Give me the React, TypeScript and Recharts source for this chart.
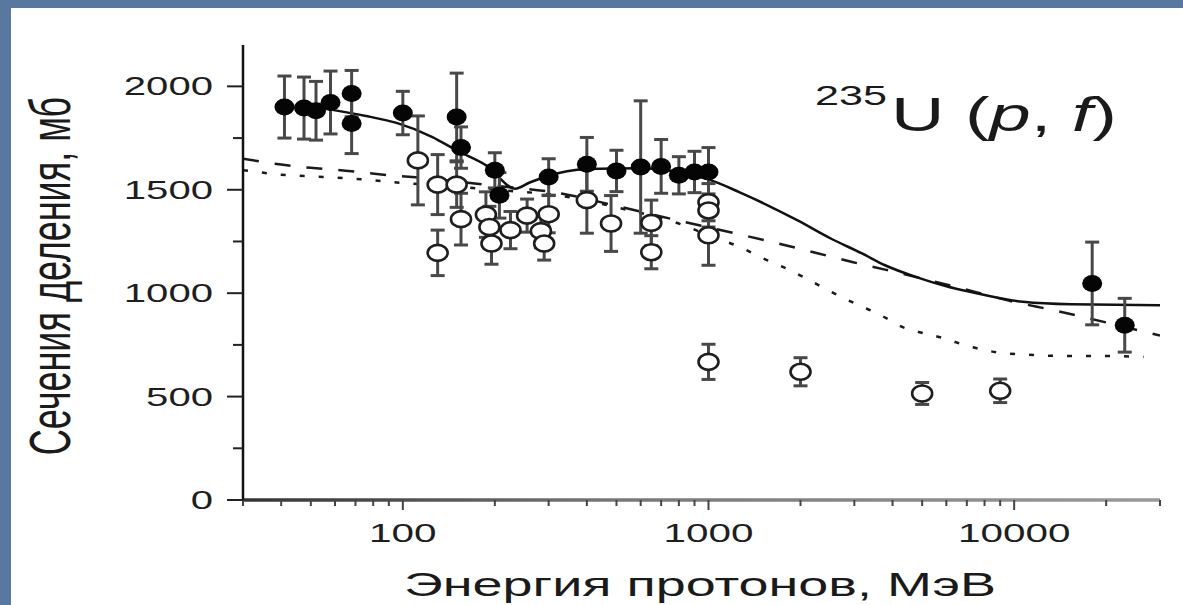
import React from 'react';
import { ComposedChart, XAxis, YAxis, Scatter, Line, ErrorBar, Customized } from 'recharts';

// Filled circles (experimental data, series 1)
const filledX = [41, 47.5, 52, 58, 68, 68, 100, 150, 155, 200, 207, 300, 400, 500, 600, 700, 800, 900, 1000, 18000, 23000];
const filledY = [1900, 1895, 1882, 1922, 1965, 1820, 1871, 1852, 1704, 1594, 1473, 1562, 1623, 1591, 1610, 1613, 1570, 1586, 1586, 1047, 845];
const filledErr = [150, 150, 142, 152, 112, 145, 105, 212, 100, 85, 110, 88, 130, 100, 320, 130, 90, 100, 118, 200, 130];

// Open circles (experimental data, series 2)
const openX = [112, 130, 130, 150, 155, 187, 192, 195, 225, 255, 283, 290, 300, 400, 480, 650, 650, 1000, 1000, 1000, 1000, 2000, 5000, 9000];
const openY = [1642, 1525, 1195, 1525, 1358, 1380, 1320, 1240, 1305, 1375, 1300, 1240, 1382, 1450, 1337, 1340, 1198, 1440, 1400, 1280, 668, 620, 515, 528];
const openErr = [215, 145, 110, 110, 125, 110, 100, 100, 90, 80, 80, 80, 90, 160, 135, 110, 80, 90, 80, 145, 85, 68, 53, 57];

// Calculated curves
const solidX = [57, 75, 96, 125, 150, 190, 233, 260, 293, 400, 600, 800, 1000, 1260, 1950, 2530, 3180, 3780, 4760, 5960, 7170, 10700, 15300, 30000];
const solidY = [1890, 1858, 1822, 1755, 1690, 1612, 1505, 1535, 1563, 1600, 1604, 1585, 1550, 1489, 1353, 1262, 1192, 1135, 1079, 1035, 1007, 958, 946, 942];

const dashedX = [30, 40, 50, 65, 85, 110, 150, 200, 330, 490, 830, 1300, 1730, 2290, 2950, 3780, 6300, 10000, 13400, 16800, 30000];
const dashedY = [1650, 1622, 1606, 1592, 1574, 1560, 1540, 1520, 1482, 1425, 1345, 1280, 1237, 1192, 1151, 1114, 1034, 958, 918, 885, 795];

const dottedX = [30, 40, 55, 73, 100, 150, 200, 330, 500, 830, 1000, 1275, 1485, 1750, 2040, 2370, 2760, 3250, 3740, 4300, 5100, 5920, 6880, 8000, 9300, 10800, 14500, 19700, 26500];
const dottedY = [1595, 1573, 1562, 1551, 1533, 1515, 1500, 1470, 1415, 1328, 1280, 1221, 1173, 1127, 1079, 1027, 977, 929, 886, 837, 805, 781, 749, 725, 709, 704, 696, 696, 692];

// Axis ticks
const xTicks = [30, 40, 50, 60, 70, 80, 90, 100, 200, 300, 400, 500, 600, 700, 800, 900, 1000, 2000, 3000, 4000, 5000, 6000, 7000, 8000, 9000, 10000, 20000, 30000];
const xMajor = [100, 1000, 10000];
const yTicks = [0, 250, 500, 750, 1000, 1250, 1500, 1750, 2000];

const xTitle = 'Энергия протонов, МэВ';
const yTitle = 'Сечения деления, мб';

const FONT = 'Liberation Sans, Arial, Helvetica, sans-serif';

const filledData = filledX.map((x, i) => ({ x, y: filledY[i], e: filledErr[i] }));
const openData = openX.map((x, i) => ({ x, y: openY[i], e: openErr[i] }));
const solidData = solidX.map((x, i) => ({ x, y: solidY[i] }));
const dashedData = dashedX.map((x, i) => ({ x, y: dashedY[i] }));
const dottedData = dottedX.map((x, i) => ({ x, y: dottedY[i] }));

const FilledDot = (p: any) => <ellipse cx={p.cx} cy={p.cy} rx={10} ry={8.5} fill="#050505" />;
const OpenDot = (p: any) => (
  <ellipse cx={p.cx} cy={p.cy} rx={10} ry={8} fill="#fff" stroke="#1e1e1e" strokeWidth={2.6} />
);

const XTick = (props: any) => {
  const { x, y, payload } = props;
  const v = payload.value;
  const major = xMajor.includes(v);
  const s = String(v);
  return (
    <g>
      <line x1={x} y1={y} x2={x} y2={y + (major ? 10 : 6)} stroke="#444" strokeWidth={2} />
      {major && (
        <text
          x={x}
          y={y + 42}
          textAnchor="middle"
          fontSize={25}
          fontFamily={FONT}
          fill="#1e1e1e"
          textLength={s.length * 22.5}
          lengthAdjust="spacingAndGlyphs"
        >
          {s}
        </text>
      )}
    </g>
  );
};

const YTick = (props: any) => {
  const { x, y, payload } = props;
  const v = payload.value;
  const major = v % 500 === 0;
  const s = String(v);
  return (
    <g>
      <line x1={x} y1={y} x2={x - (major ? 16 : 10)} y2={y} stroke="#222" strokeWidth={2} />
      {major && (
        <text
          x={x - 30}
          y={y + 9}
          textAnchor="end"
          fontSize={25}
          fontFamily={FONT}
          fill="#1e1e1e"
          textLength={s.length * 22.3}
          lengthAdjust="spacingAndGlyphs"
        >
          {s}
        </text>
      )}
    </g>
  );
};

const Decorations = () => (
  <g fontFamily={FONT} fill="#1a1a1a">
    <text
      x={700}
      y={596}
      textAnchor="middle"
      fontSize={34}
      textLength={592}
      lengthAdjust="spacingAndGlyphs"
    >
      {xTitle}
    </text>
    <text transform="translate(70,276) scale(1.6,1) rotate(-90)" x={0} y={0} textAnchor="middle" fontSize={36}>
      {yTitle}
    </text>
    <text x={815} y={105} fontSize={28} textLength={72} lengthAdjust="spacingAndGlyphs">
      235
    </text>
    <text x={891} y={131} fontSize={48} textLength={226} lengthAdjust="spacingAndGlyphs">
      U (<tspan fontStyle="italic">p</tspan>, <tspan fontStyle="italic">f</tspan>)
    </text>
  </g>
);

export default function App() {
  return (
    <div
      style={{
        position: 'absolute',
        left: 0,
        top: 0,
        width: 1183,
        height: 605,
        background: '#5878a0',
        overflow: 'hidden',
      }}
    >
      <div style={{ position: 'absolute', left: 11, top: 8, width: 1172, height: 597, background: '#ffffff' }} />
      <div style={{ position: 'absolute', left: 0, top: 0 }}>
        <ComposedChart width={1183} height={605} margin={{ top: 45, right: 23, bottom: 0, left: 0 }}>
          <defs>
            <linearGradient id="xAxisGrad" gradientUnits="userSpaceOnUse" x1={243} y1={0} x2={1160} y2={0}>
              <stop offset="0%" stopColor="#333" />
              <stop offset="40%" stopColor="#777" />
              <stop offset="100%" stopColor="#9a9a9a" />
            </linearGradient>
          </defs>
          <XAxis
            dataKey="x"
            type="number"
            scale="log"
            domain={[30, 30000]}
            allowDataOverflow
            ticks={xTicks}
            interval={0}
            height={105}
            tickSize={0}
            tickMargin={0}
            tickLine={false}
            axisLine={{ stroke: 'url(#xAxisGrad)', strokeWidth: 3.5 }}
            tick={XTick}
          />
          <YAxis
            dataKey="y"
            type="number"
            domain={[0, 2200]}
            allowDataOverflow
            ticks={yTicks}
            interval={0}
            width={243}
            tickSize={0}
            tickMargin={0}
            tickLine={false}
            axisLine={{ stroke: '#111', strokeWidth: 2.5 }}
            tick={YTick}
          />
          <Line data={dottedData} dataKey="y" type="monotone" dot={false} stroke="#1a1a1a" strokeWidth={2.5} strokeDasharray="5 14" isAnimationActive={false} />
          <Line data={dashedData} dataKey="y" type="monotone" dot={false} stroke="#1a1a1a" strokeWidth={2.5} strokeDasharray="16 16" isAnimationActive={false} />
          <Line data={solidData} dataKey="y" type="monotone" dot={false} stroke="#111" strokeWidth={2.5} isAnimationActive={false} />
          <Scatter data={openData} dataKey="y" shape={OpenDot} isAnimationActive={false}>
            <ErrorBar dataKey="e" direction="y" width={7} stroke="#484848" strokeWidth={3} />
          </Scatter>
          <Scatter data={filledData} dataKey="y" shape={FilledDot} isAnimationActive={false}>
            <ErrorBar dataKey="e" direction="y" width={7} stroke="#484848" strokeWidth={3} />
          </Scatter>
          <Customized component={Decorations} />
        </ComposedChart>
      </div>
    </div>
  );
}
